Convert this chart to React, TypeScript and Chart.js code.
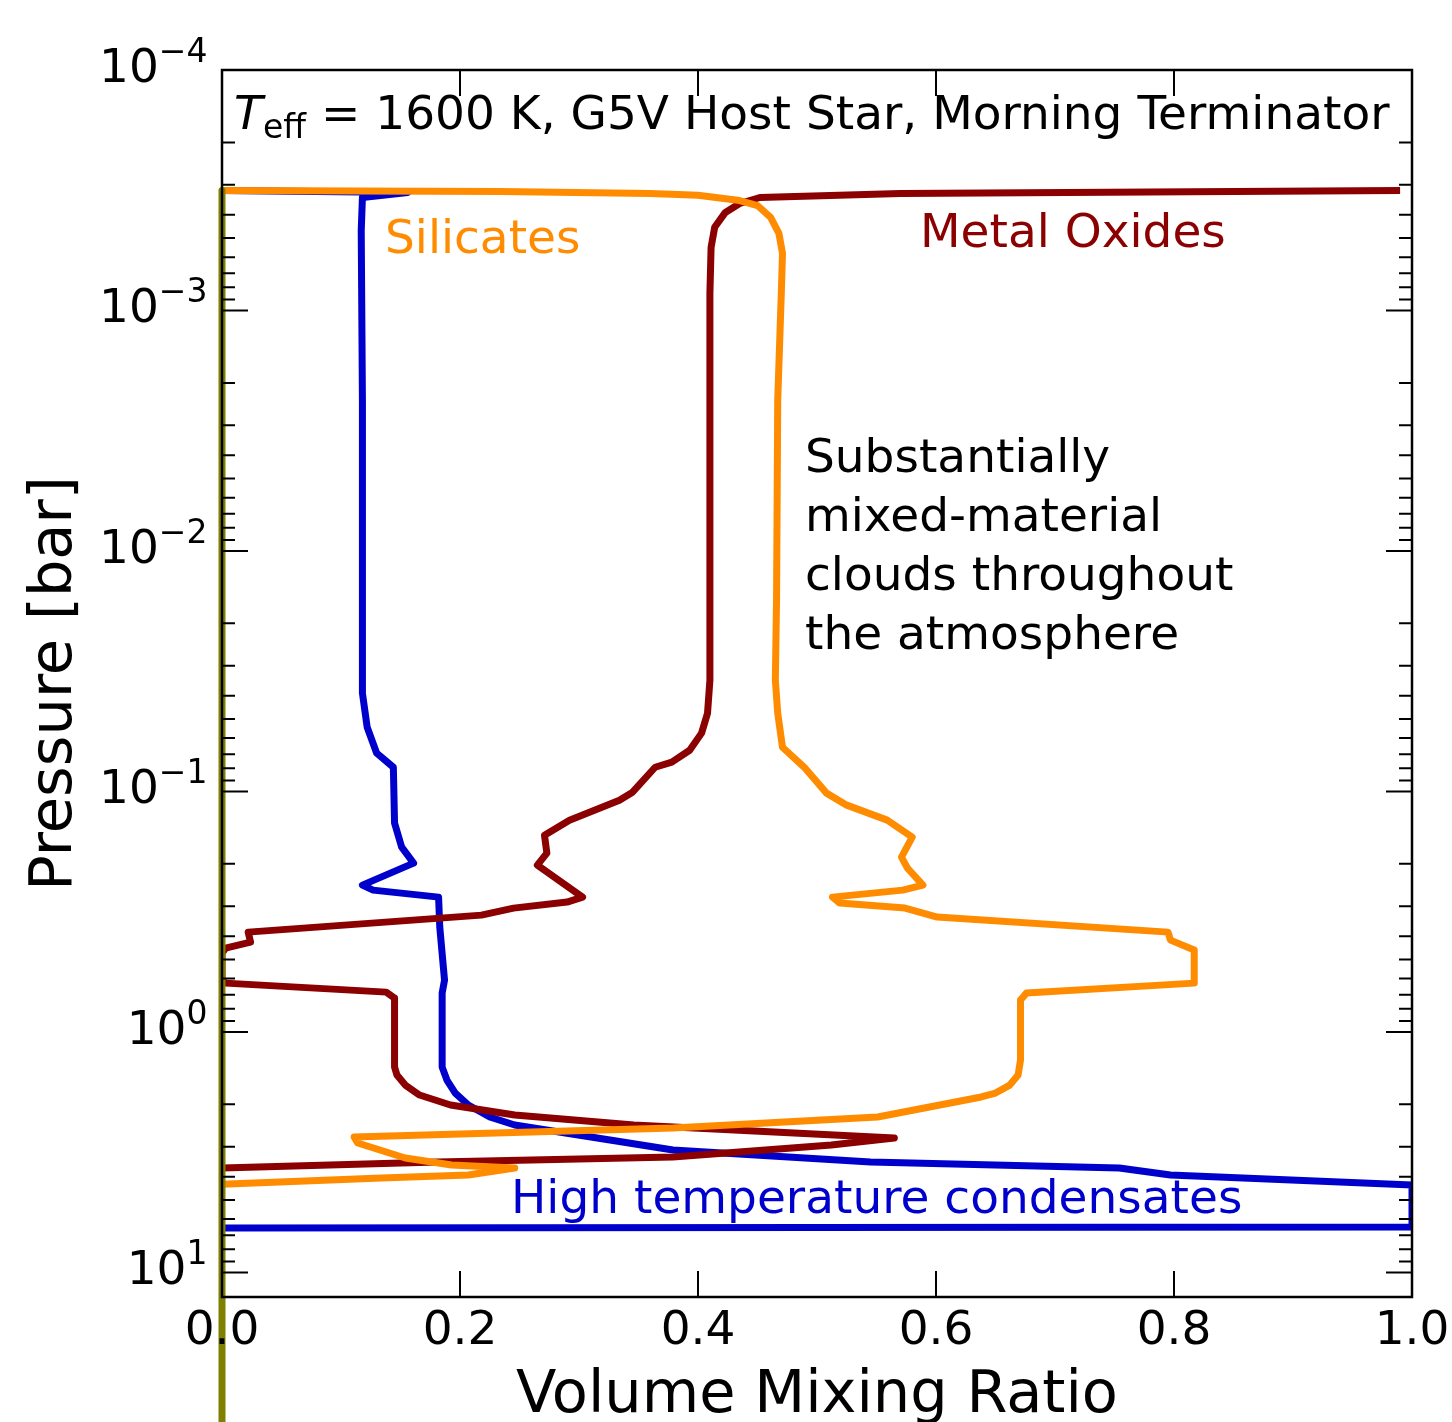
import React, { useEffect, useRef } from "react";
import { Chart, registerables } from "chart.js";

Chart.register(...registerables);

// ---------------- data ----------------
const silicatesVMR = [0, 0.234, 0.36, 0.4, 0.435, 0.45, 0.461, 0.468, 0.471, 0.47, 0.467, 0.466, 0.465, 0.467, 0.471, 0.49, 0.508, 0.525, 0.559, 0.58, 0.571, 0.576, 0.589, 0.572, 0.513, 0.519, 0.574, 0.601, 0.795, 0.797, 0.817, 0.817, 0.676, 0.671, 0.671, 0.669, 0.662, 0.65, 0.638, 0.551, 0.379, 0.111, 0.114, 0.154, 0.193, 0.246, 0.207, 0.134, 0.0];
const silicatesP = [3.17e-4, 3.2e-4, 3.26e-4, 3.32e-4, 3.49e-4, 3.66e-4, 4.1e-4, 4.78e-4, 5.79e-4, 8.49e-4, 2.36e-3, 1.6e-2, 3.45e-2, 4.73e-2, 6.55e-2, 8.0e-2, 0.1016, 0.114, 0.1316, 0.1549, 0.1875, 0.2084, 0.2452, 0.2572, 0.275, 0.2912, 0.3055, 0.333, 0.3845, 0.415, 0.4566, 0.6265, 0.6894, 0.7371, 1.309, 1.511, 1.663, 1.795, 1.864, 2.258, 2.508, 2.734, 2.896, 3.343, 3.575, 3.679, 3.934, 4.048, 4.3];

const metalOxidesVMR = [0.99, 0.57, 0.452, 0.435, 0.423, 0.414, 0.411, 0.41, 0.41, 0.41, 0.41, 0.408, 0.403, 0.393, 0.378, 0.364, 0.345, 0.334, 0.292, 0.271, 0.273, 0.265, 0.303, 0.29, 0.245, 0.218, 0.022, 0.024, 0.003, 0.0, 0.0, 0.003, 0.138, 0.145, 0.145, 0.147, 0.154, 0.166, 0.192, 0.246, 0.346, 0.565, 0.512, 0.379, 0.181, 0.0];
const metalOxidesP = [3.17e-4, 3.26e-4, 3.39e-4, 3.59e-4, 3.91e-4, 4.51e-4, 5.47e-4, 8.49e-4, 2.36e-3, 1.6e-2, 3.45e-2, 4.73e-2, 5.72e-2, 6.74e-2, 7.55e-2, 7.93e-2, 0.1007, 0.1087, 0.1316, 0.152, 0.1805, 0.2025, 0.275, 0.2884, 0.3055, 0.3267, 0.3845, 0.4232, 0.448, 0.47, 0.61, 0.6265, 0.6829, 0.7231, 1.4, 1.511, 1.663, 1.829, 2.013, 2.215, 2.437, 2.761, 2.952, 3.311, 3.473, 3.68];

const highTempVMR = [0, 0.156, 0.118, 0.117, 0.118, 0.118, 0.118, 0.122, 0.13, 0.144, 0.145, 0.151, 0.161, 0.118, 0.127, 0.182, 0.183, 0.187, 0.185, 0.185, 0.189, 0.196, 0.207, 0.225, 0.246, 0.326, 0.379, 0.545, 0.754, 0.797, 1.0, 1.0, 0.0];
const highTempP = [3.17e-4, 3.23e-4, 3.39e-4, 4.65e-4, 2.36e-3, 2.59e-2, 3.9e-2, 5.41e-2, 6.93e-2, 7.93e-2, 0.1354, 0.1704, 0.1986, 0.2452, 0.2572, 0.275, 0.3665, 0.6087, 0.6894, 1.4, 1.585, 1.795, 2.013, 2.258, 2.437, 2.814, 3.097, 3.473, 3.679, 3.934, 4.328, 6.471, 6.53];

const otherVMR = [0, 0];
const otherP = [3.17e-4, 100];

const xTickValues = [0, 0.2, 0.4, 0.6, 0.8, 1.0];
const xTickLabels = ["0.0", "0.2", "0.4", "0.6", "0.8", "1.0"];
const yTickExponents = [-4, -3, -2, -1, 0, 1];
const yTickSuperscripts = ["\u22124", "\u22123", "\u22122", "\u22121", "0", "1"];

const titleRest = " = 1600 K, G5V Host Star, Morning Terminator";
const annotationLines = ["Substantially", "mixed-material", "clouds throughout", "the atmosphere"];

const FONT = '"DejaVu Sans", "Liberation Sans", sans-serif';

function pts(xs: number[], ps: number[]) {
  return xs.map((x, i) => ({ x, y: ps[i] }));
}

const mplPlugin = {
  id: "mplAxes",
  afterDraw(chart: any) {
    const { ctx, chartArea: a, scales } = chart;
    const xs = scales.x;
    const ys = scales.y;
    ctx.save();
    // ticks
    ctx.strokeStyle = "#000";
    ctx.lineWidth = 2;
    ctx.beginPath();
    for (const v of xTickValues) {
      const px = xs.getPixelForValue(v);
      ctx.moveTo(px, a.bottom);
      ctx.lineTo(px, a.bottom - 26);
      ctx.moveTo(px, a.top);
      ctx.lineTo(px, a.top + 26);
    }
    const yMin = ys.min, yMax = ys.max;
    for (let e = -5; e <= 2; e++) {
      for (let m = 1; m <= 9; m++) {
        const v = m * Math.pow(10, e);
        if (v < yMin * 0.999 || v > yMax * 1.001) continue;
        const py = ys.getPixelForValue(v);
        const len = m === 1 ? 26 : 13;
        ctx.moveTo(a.left, py);
        ctx.lineTo(a.left + len, py);
        ctx.moveTo(a.right, py);
        ctx.lineTo(a.right - len, py);
      }
    }
    ctx.stroke();
    // spines
    ctx.lineWidth = 2.5;
    ctx.strokeRect(a.left, a.top, a.right - a.left, a.bottom - a.top);

    ctx.fillStyle = "#000";
    // x tick labels
    ctx.font = `47px ${FONT}`;
    ctx.textAlign = "center";
    ctx.textBaseline = "alphabetic";
    xTickValues.forEach((v, i) => {
      ctx.fillText(xTickLabels[i], xs.getPixelForValue(v), 1344);
    });
    // y tick labels (10^n)
    yTickExponents.forEach((e, i) => {
      const py = ys.getPixelForValue(Math.pow(10, e));
      ctx.textAlign = "right";
      ctx.font = `33px ${FONT}`;
      const sup = yTickSuperscripts[i];
      ctx.fillText(sup, 207.5, py - 8);
      const w = ctx.measureText(sup).width;
      ctx.font = `47px ${FONT}`;
      ctx.fillText("10", 207.5 - w, py + 12);
    });
    // axis labels
    ctx.font = `59px ${FONT}`;
    ctx.textAlign = "center";
    ctx.fillText("Volume Mixing Ratio", (a.left + a.right) / 2, 1412);
    ctx.save();
    ctx.translate(71, (a.top + a.bottom) / 2);
    ctx.rotate(-Math.PI / 2);
    ctx.fillText("Pressure [bar]", 0, 0);
    ctx.restore();

    // title inside plot
    ctx.textAlign = "left";
    ctx.font = `italic 47px ${FONT}`;
    ctx.fillText("T", 234, 129);
    ctx.font = `33px ${FONT}`;
    ctx.fillText("eff", 263, 138);
    const wEff = ctx.measureText("eff").width;
    ctx.font = `47px ${FONT}`;
    ctx.fillText(titleRest, 263 + wEff, 129);

    // annotations
    ctx.fillStyle = "#FF8C00";
    ctx.fillText("Silicates", 385, 253);
    ctx.fillStyle = "#8B0000";
    ctx.fillText("Metal Oxides", 920, 247);
    ctx.fillStyle = "#0000CD";
    ctx.fillText("High temperature condensates", 511, 1213);
    ctx.fillStyle = "#000";
    const baselines = [472, 531, 590, 649];
    annotationLines.forEach((t, i) => ctx.fillText(t, 805, baselines[i]));
    ctx.restore();
  },
};

export default function App() {
  const ref = useRef<HTMLCanvasElement | null>(null);
  useEffect(() => {
    if (!ref.current) return;
    const common = {
      showLine: true,
      pointRadius: 0,
      pointHoverRadius: 0,
      borderWidth: 7,
      borderJoinStyle: "round" as const,
      borderCapStyle: "butt" as const,
      fill: false,
      tension: 0,
    };
    const chart = new Chart(ref.current, {
      type: "scatter",
      data: {
        datasets: [
          { ...common, label: "Other", data: pts(otherVMR, otherP), borderColor: "#808000", backgroundColor: "#808000", borderWidth: 7, clip: false, order: 0 },
          { ...common, label: "Silicates", data: pts(silicatesVMR, silicatesP), borderColor: "#FF8C00", backgroundColor: "#FF8C00", clip: 0, order: 1 },
          { ...common, label: "Metal Oxides", data: pts(metalOxidesVMR, metalOxidesP), borderColor: "#8B0000", backgroundColor: "#8B0000", clip: 0, order: 2 },
          { ...common, label: "High temperature condensates", data: pts(highTempVMR, highTempP), borderColor: "#0000CD", backgroundColor: "#0000CD", clip: 0, order: 3 },
        ] as any,
      },
      options: {
        responsive: false,
        animation: false,
        devicePixelRatio: 1,
        events: [],
        layout: { padding: { left: 222, right: 40, top: 70, bottom: 125 } },
        plugins: { legend: { display: false }, tooltip: { enabled: false }, title: { display: false } },
        scales: {
          x: { type: "linear", min: 0, max: 1, display: false },
          y: { type: "logarithmic", min: 1e-4, max: 12.65, reverse: true, display: false },
        },
      } as any,
      plugins: [mplPlugin],
    });
    return () => chart.destroy();
  }, []);
  return (
    <div style={{ position: "absolute", left: 0, top: 0, width: 1452, height: 1422, background: "#fff" }}>
      <canvas ref={ref} width={1452} height={1422} style={{ width: 1452, height: 1422, display: "block" }} />
    </div>
  );
}
